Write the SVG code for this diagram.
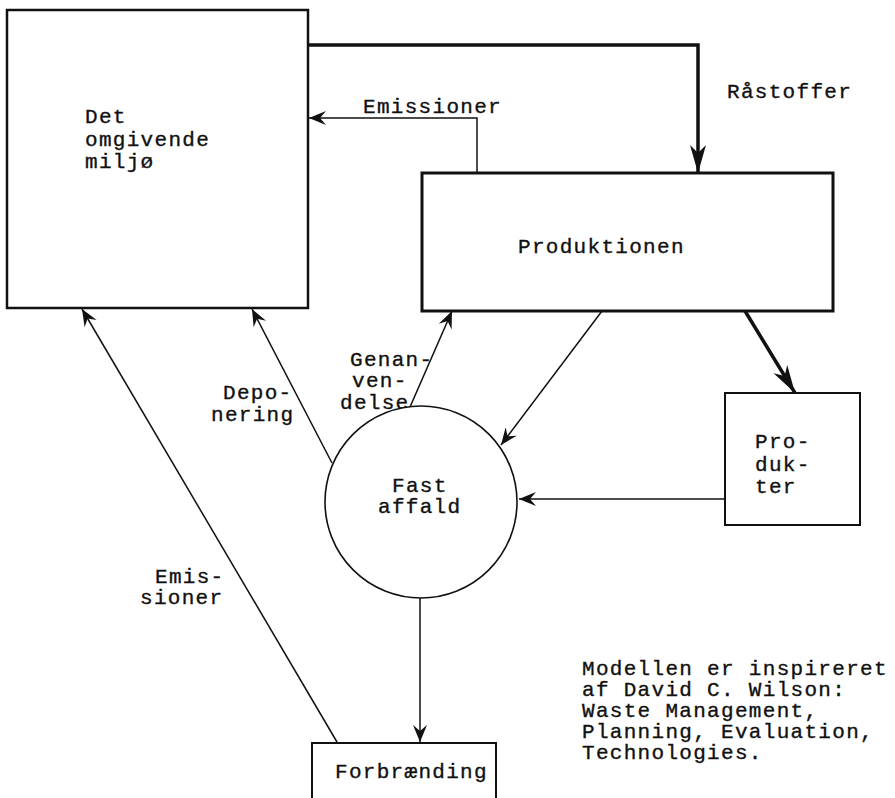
<svg xmlns="http://www.w3.org/2000/svg" width="895" height="798" viewBox="0 0 895 798">
<style>
text{font-family:"Liberation Mono","Courier New",monospace;font-size:21px;letter-spacing:1.3px;fill:#111;stroke:#111;stroke-width:0.35}
.box{fill:#fff;stroke:#111}
.ln{fill:none;stroke:#111;stroke-width:1.5}
.thick{fill:none;stroke:#111;stroke-width:3.5}
</style>
<defs>
<marker id="ah" viewBox="-18 -8 20 16" refX="0" refY="0" markerWidth="20" markerHeight="16" markerUnits="userSpaceOnUse" orient="auto">
<path d="M0,0 L-17,-7 L-11,0 L-17,7 Z" fill="#111"/>
</marker>
<marker id="ahb" viewBox="-28 -10 30 20" refX="0" refY="0" markerWidth="30" markerHeight="20" markerUnits="userSpaceOnUse" orient="auto">
<path d="M0,0 L-28,-8 L-20,0 L-28,8 Z" fill="#111"/>
</marker>
</defs>
<g id="connectors">
<polyline class="thick" points="308,45 698,45 698,173" marker-end="url(#ahb)"/>
<polyline class="ln" points="477,173 477,118 309,118" marker-end="url(#ah)"/>
<line class="ln" x1="410" y1="407" x2="452" y2="311" marker-end="url(#ah)"/>
<line class="ln" x1="332" y1="463" x2="252" y2="309" marker-end="url(#ah)"/>
<line class="ln" x1="337" y1="742" x2="82" y2="309" marker-end="url(#ah)"/>
<line class="ln" x1="602" y1="311" x2="501" y2="445" marker-end="url(#ah)"/>
<line class="thick" x1="745" y1="311" x2="795" y2="393" marker-end="url(#ahb)"/>
<line class="ln" x1="725" y1="499" x2="519" y2="499" marker-end="url(#ah)"/>
<line class="ln" x1="420" y1="597" x2="420" y2="742" marker-end="url(#ah)"/>
<text x="727" y="98">Råstoffer</text>
<text x="363" y="113">Emissioner</text>
<text x="350" y="366">Genan-</text>
<text x="352" y="387">ven-</text>
<text x="340" y="409">delse</text>
<text x="223" y="399">Depo-</text>
<text x="211" y="421">nering</text>
<text x="155" y="583">Emis-</text>
<text x="140" y="604">sioner</text>
</g>
<g id="miljo">
<rect class="box" x="7" y="10" width="301" height="298" stroke-width="2.5"/>
<text x="85" y="123">Det</text>
<text x="85" y="146">omgivende</text>
<text x="85" y="168">miljø</text>
</g>
<g id="produktionen">
<rect class="box" x="422" y="173" width="411" height="138" stroke-width="3"/>
<text x="518" y="253">Produktionen</text>
</g>
<g id="produkter">
<rect class="box" x="725" y="393" width="135" height="132" stroke-width="2"/>
<text x="755" y="448">Pro-</text>
<text x="755" y="471">duk-</text>
<text x="755" y="493">ter</text>
</g>
<g id="fast-affald">
<circle class="box" cx="421" cy="502" r="96" stroke-width="1.6"/>
<text x="392" y="492">Fast</text>
<text x="378" y="513">affald</text>
</g>
<g id="forbraending">
<rect class="box" x="312" y="743" width="184" height="70" stroke-width="2"/>
<text x="335" y="778">Forbrænding</text>
</g>
<g id="note">
<text x="582" y="675">Modellen er inspireret</text>
<text x="582" y="696">af David C. Wilson:</text>
<text x="582" y="717">Waste Management,</text>
<text x="582" y="738">Planning, Evaluation,</text>
<text x="582" y="759">Technologies.</text>
</g>
</svg>
